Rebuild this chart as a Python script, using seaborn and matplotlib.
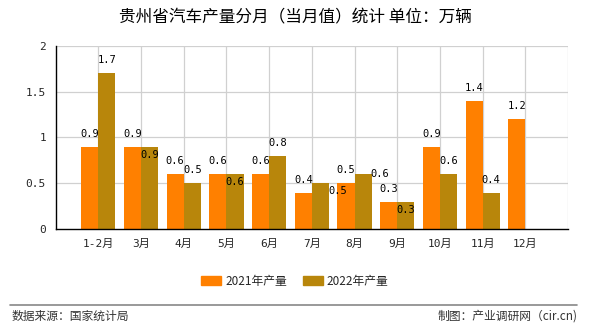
import matplotlib
matplotlib.use("Agg")
import matplotlib.pyplot as plt
import seaborn as sns
import pandas as pd
import numpy as np
from matplotlib.lines import Line2D

# ---- data ----
months = ["1-2月", "3月", "4月", "5月", "6月", "7月", "8月", "9月", "10月", "11月", "12月"]
prod_2021 = [0.9, 0.9, 0.6, 0.6, 0.6, 0.4, 0.5, 0.3, 0.9, 1.4, 1.2]
prod_2022 = [1.7, 0.9, 0.5, 0.6, 0.8, 0.5, 0.6, 0.3, 0.6, 0.4, np.nan]
series_names = ["2021年产量", "2022年产量"]
yticks = [0, 0.5, 1, 1.5, 2]
yticklabels = ["0", "0.5", "1", "1.5", "2"]
title = "贵州省汽车产量分月（当月值）统计 单位：万辆"
source_text = "数据来源：国家统计局"
credit_text = "制图：产业调研网（cir.cn)"

df = pd.DataFrame({
    "month": months * 2,
    "value": prod_2021 + prod_2022,
    "series": [series_names[0]] * len(months) + [series_names[1]] * len(months),
})

sns.set_style("white")
plt.rcParams["font.family"] = ["Noto Sans CJK SC", "DejaVu Sans"]

colors = ["#FF8000", "#B8860B"]
mono = ["DejaVu Sans Mono", "Noto Sans CJK SC"]

fig = plt.figure(figsize=(5.9, 3.3), dpi=100)
ax = fig.add_axes([0.0944, 0.3052, 0.8683, 0.5563])

sns.barplot(data=df, x="month", y="value", hue="series", order=months,
            hue_order=series_names, palette=colors, saturation=1, width=0.8,
            errorbar=None, ax=ax, legend=False, zorder=3,
            linewidth=0, edgecolor="none")

ax.set_xlim(-1, len(months))
ax.set_ylim(0, 2)
ax.set_xlabel("")
ax.set_ylabel("")

# grid
for yv in yticks[1:]:
    ax.axhline(yv, color="#d0d0d0", lw=0.9, zorder=0)
for xv in range(len(months) + 1):
    ax.axvline(xv, color="#d0d0d0", lw=0.9, zorder=0)

for s in ["top", "right"]:
    ax.spines[s].set_visible(False)
for s in ["left", "bottom"]:
    ax.spines[s].set_color("black")
    ax.spines[s].set_linewidth(1.0)
    ax.spines[s].set_zorder(5)

ax.set_xticks(list(range(len(months) + 1)))
ax.set_xticklabels(months + [""], family=mono, fontsize=8)
ax.set_yticks(yticks)
ax.set_yticklabels(yticklabels, family=mono, fontsize=8)
ax.tick_params(axis="both", direction="out", length=4, width=1, color="black", pad=3)

# value labels (pixel offsets for the 2022 labels that sit lower / shifted)
shift_2022 = {1: (0, -21), 3: (0, -21), 5: (17, -21), 6: (17, -13), 7: (0, -21)}
for ci, cont in enumerate(ax.containers):
    for p in cont.patches:
        h = p.get_height()
        if not np.isfinite(h) or h == 0:
            continue
        xc = p.get_x() + p.get_width() / 2
        idx = int(round(xc))
        dx, dy = 0, 13
        if ci == 1 and idx in shift_2022:
            sx, sy = shift_2022[idx]
            dx, dy = dx + sx, dy + sy
        ax.annotate(f"{h:.1f}", (xc, h), xytext=(dx, dy), textcoords="offset pixels",
                    ha="center", va="center", fontsize=7.5, family=mono,
                    color="black", zorder=6)

# title
fig.text(0.5, 0.945, title, ha="center", va="center", fontsize=12, color="black")

# legend
handles = [plt.Rectangle((0, 0), 1, 1, color=c) for c in colors]
fig.legend(handles, series_names, loc="center", bbox_to_anchor=(0.5, 0.148), ncol=2,
           frameon=False, fontsize=8.5, handlelength=1.7, handleheight=0.8,
           handletextpad=0.35, columnspacing=1.3)

# separator and footer
fig.add_artist(Line2D([0.017, 0.978], [0.077, 0.077], transform=fig.transFigure,
                      color="#888888", lw=1.2))
fig.text(0.019, 0.042, source_text, ha="left", va="center", fontsize=8.5, color="#333333")
fig.text(0.978, 0.042, credit_text, ha="right", va="center", fontsize=8.5, color="#333333")

fig.savefig("out.png", dpi=100)
